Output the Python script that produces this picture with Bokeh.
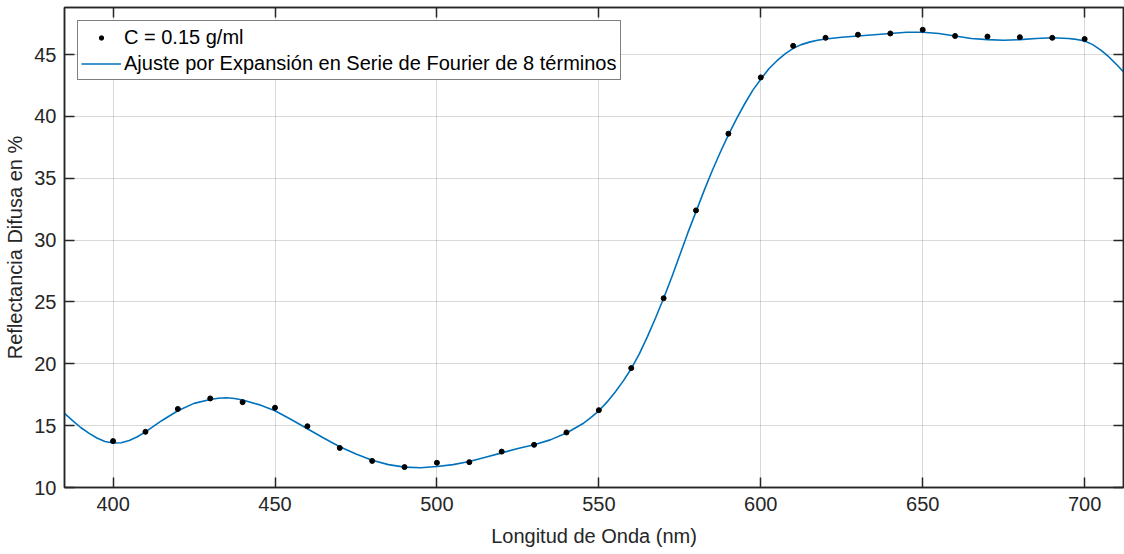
from bokeh.plotting import figure
from bokeh.models import LinearAxis, Legend, LegendItem, FixedTicker, ColumnDataSource
from bokeh.embed import file_html
from bokeh.resources import INLINE

# Measured data (C = 0.15 g/ml)
wavelength = [400, 410, 420, 430, 440, 450, 460, 470, 480, 490, 500, 510, 520, 530, 540,
              550, 560, 570, 580, 590, 600, 610, 620, 630, 640, 650, 660, 670, 680, 690, 700]
reflectance = [13.75, 14.5, 16.35, 17.2, 16.9, 16.45, 14.95, 13.2, 12.15, 11.65, 12.0, 12.05,
               12.9, 13.45, 14.45, 16.25, 19.65, 25.3, 32.4, 38.6, 43.15, 45.7, 46.35, 46.6,
               46.7, 47.0, 46.5, 46.45, 46.4, 46.35, 46.25]

# Fourier fit curve
fit_wl = [385, 387.5, 390, 392.5, 395, 397.5, 400, 402.5, 405, 407.5, 410, 415, 420, 425,
          430, 432.5, 435, 437.5, 440, 445, 450, 455, 460, 465, 470, 475, 480, 485, 490,
          495, 500, 505, 510, 515, 520, 525, 530, 535, 540, 545, 547.5, 550, 552.5, 555,
          557.5, 560, 562.5, 565, 567.5, 570, 572.5, 575, 577.5, 580, 582.5, 585, 587.5,
          590, 592.5, 595, 597.5, 600, 602.5, 605, 607.5, 610, 612.5, 615, 617.5, 620, 625,
          630, 635, 640, 645, 650, 655, 660, 665, 670, 675, 680, 685, 690, 695, 697.5, 700,
          702.5, 705, 707.5, 710, 712]
fit_val = [16.0, 15.4, 14.85, 14.4, 14.0, 13.72, 13.6, 13.62, 13.8, 14.1, 14.5, 15.4, 16.2,
           16.8, 17.12, 17.22, 17.25, 17.2, 17.08, 16.7, 16.2, 15.5, 14.75, 14.0, 13.3, 12.7,
           12.2, 11.85, 11.65, 11.6, 11.7, 11.85, 12.1, 12.45, 12.8, 13.15, 13.45, 13.85,
           14.4, 15.15, 15.65, 16.2, 16.9, 17.7, 18.6, 19.6, 20.8, 22.2, 23.7, 25.3, 27.0,
           28.8, 30.6, 32.3, 34.0, 35.6, 37.1, 38.5, 39.8, 41.0, 42.1, 43.0, 43.85, 44.5,
           45.05, 45.5, 45.8, 46.0, 46.15, 46.25, 46.4, 46.5, 46.6, 46.7, 46.8, 46.8, 46.7,
           46.5, 46.3, 46.2, 46.15, 46.2, 46.3, 46.35, 46.3, 46.22, 46.1, 45.8, 45.35, 44.8,
           44.15, 43.6]

x_ticks = [400, 450, 500, 550, 600, 650, 700]
y_ticks = [10, 15, 20, 25, 30, 35, 40, 45]

label_data = "C = 0.15 g/ml"
label_fit = "Ajuste por Expansión en Serie de Fourier de 8 términos"

FONT = "Liberation Sans"
TXT = "#262626"
FS = "20px"

p = figure(width=1124, height=554, x_range=(385, 712), y_range=(10, 48.8),
           output_backend="svg", toolbar_location=None,
           min_border_left=64, min_border_right=1, min_border_top=7, min_border_bottom=67,
           background_fill_color="white", border_fill_color="white")
p.outline_line_color = TXT
p.outline_line_width = 1.5

for ax in (p.xaxis[0], p.yaxis[0]):
    ax.major_tick_in = 10
    ax.major_tick_out = 0
    ax.minor_tick_in = 0
    ax.minor_tick_out = 0
    ax.axis_line_color = TXT
    ax.axis_line_width = 1.5
    ax.major_tick_line_color = TXT
    ax.major_tick_line_width = 1.5
    ax.major_label_text_font = FONT
    ax.major_label_text_font_size = FS
    ax.major_label_text_color = TXT
    ax.axis_label_text_font = FONT
    ax.axis_label_text_font_size = FS
    ax.axis_label_text_color = TXT
    ax.axis_label_text_font_style = "normal"

p.xaxis[0].ticker = FixedTicker(ticks=x_ticks)
p.yaxis[0].ticker = FixedTicker(ticks=y_ticks)
p.xaxis[0].axis_label = "Longitud de Onda (nm)"
p.yaxis[0].axis_label = "Reflectancia Difusa en %"
p.xaxis[0].major_label_standoff = 9
p.xaxis[0].axis_label_standoff = 11
p.yaxis[0].major_label_standoff = 8
p.yaxis[0].axis_label_standoff = 5

for loc, tk in (("above", x_ticks), ("right", y_ticks)):
    ax = LinearAxis(ticker=FixedTicker(ticks=tk), major_tick_in=10, major_tick_out=0,
                    minor_tick_in=0, minor_tick_out=0, axis_line_color=TXT,
                    axis_line_width=1.5, major_tick_line_color=TXT, major_tick_line_width=1.5,
                    major_label_text_font_size="0px", major_label_standoff=0,
                    major_label_overrides={t: "" for t in tk})
    p.add_layout(ax, loc)

p.xgrid.ticker = FixedTicker(ticks=x_ticks)
p.ygrid.ticker = FixedTicker(ticks=y_ticks)
p.grid.grid_line_color = "#000000"
p.grid.grid_line_alpha = 0.15
p.grid.grid_line_width = 1

src_pts = ColumnDataSource(dict(x=wavelength, y=reflectance))
src_fit = ColumnDataSource(dict(x=fit_wl, y=fit_val))

fit = p.line("x", "y", source=src_fit, line_color="#0072BD", line_width=1.6)
pts = p.scatter("x", "y", source=src_pts, marker="circle", size=5, color="black")

legend = Legend(items=[LegendItem(label=label_data, renderers=[pts]),
                       LegendItem(label=label_fit, renderers=[fit])],
                location="top_left", margin=13, padding=3, spacing=0,
                label_height=26, glyph_height=11, glyph_width=40, label_standoff=3,
                label_text_font=FONT, label_text_font_size=FS, label_text_color="black",
                border_line_color="black", border_line_width=1.2,
                background_fill_color="white", background_fill_alpha=1)
p.add_layout(legend, "center")

open("out.html", "w").write(file_html(p, INLINE))
